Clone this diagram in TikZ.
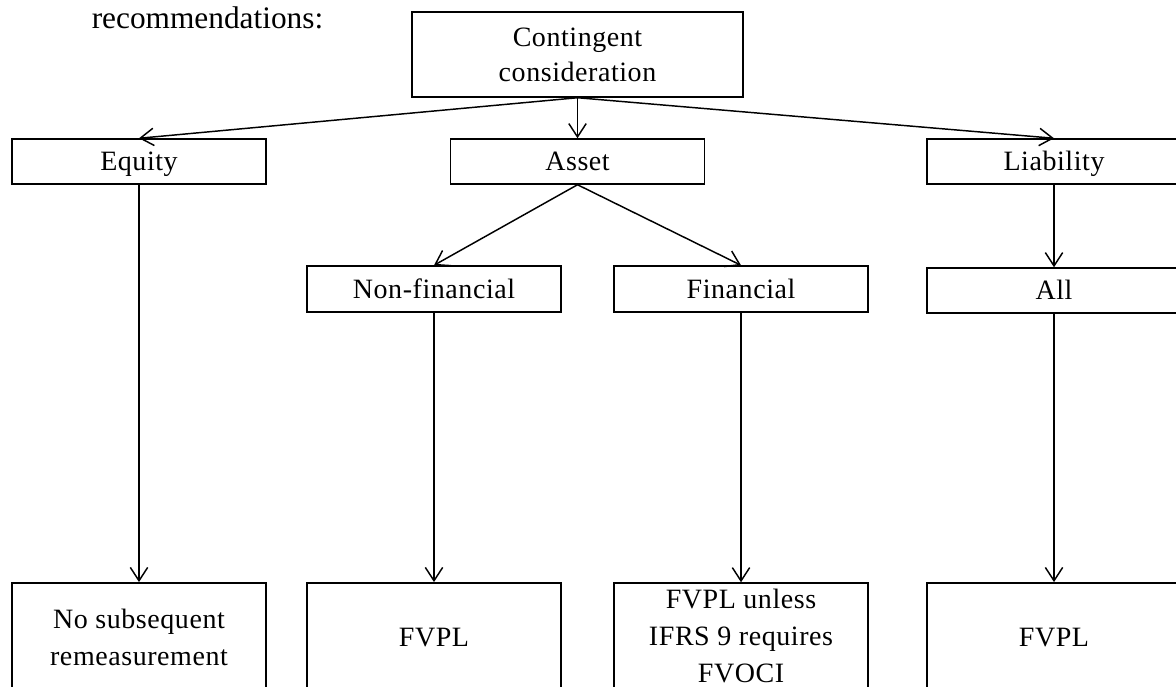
\documentclass[tikz,border=0pt]{standalone}
\usepackage{fontspec}
\setmainfont{Liberation Serif}
\usepackage{tikz}
\usetikzlibrary{arrows.meta}

\begin{document}
\begin{tikzpicture}[x=0.75pt, y=-0.75pt]

\tikzset{box/.style = {shape=rectangle,draw,line width=1.1pt,inner sep=0pt,align=center,
    minimum width=190.5pt,minimum height=33.75pt,
    font=\fontsize{21}{28}\selectfont\addfontfeature{LetterSpace=2}}}
\tikzset{oneline/.style = {text height=14pt,text depth=0pt}}
\tikzset{edge/.style = {-{Straight Barb[length=10pt,width=13pt]},line width=1.1pt}}

\useasboundingbox (0,0) rectangle (1176,686);
\clip (0,0) rectangle (1176,686);

\node[anchor=base,font=\fontsize{23.5}{28}\selectfont] (rec) at (207.5,28) {recommendations:};

% boxes
\node[box,minimum width=248.25pt,minimum height=63.75pt,
      font=\fontsize{21}{26.25}\selectfont\addfontfeature{LetterSpace=2}] (cc) at (577.5,54.5) {Contingent\\consideration};
\node[box,oneline] (eq) at (139,161.5)   {Equity};
\node[box,oneline] (as) at (577.5,161.5) {Asset};
\node[box,oneline] (li) at (1054,161.5)  {Liability};
\node[box,oneline,minimum height=34.5pt] (nf) at (434,289)  {Non-financial};
\node[box,oneline,minimum height=34.5pt] (fi) at (741,289)  {Financial};
\node[box,oneline] (al) at (1054,290.5) {All};
\node[box,minimum height=82pt] (eqres) at (139,637.5) {No subsequent\\remeasurement};
\node[box,oneline,minimum height=82pt] (nfres) at (434,637.5) {FVPL};
\node[box,minimum height=78.75pt,font=\fontsize{21}{27.75}\selectfont\addfontfeature{LetterSpace=2}] (fires) at (741,635.5) {FVPL unless\\IFRS 9 requires\\FVOCI};
\node[box,oneline,minimum height=82pt] (lires) at (1054,637.5) {FVPL};

% arrows
\draw[edge] (cc.south) -- (eq.north);
\draw[edge] (cc.south) -- (as.north);
\draw[edge] (cc.south) -- (li.north);
\draw[edge] (as.south) -- (nf.north);
\draw[edge] (as.south) -- (fi.north);
\draw[edge] (li.south) -- (al.north);
\draw[edge] (eq.south) -- (eqres.north);
\draw[edge] (nf.south) -- (nfres.north);
\draw[edge] (fi.south) -- (fires.north);
\draw[edge] (al.south) -- (lires.north);
\end{tikzpicture}
\end{document}
